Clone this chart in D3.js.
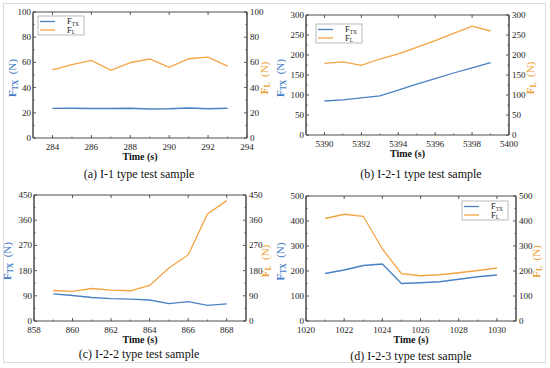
<!DOCTYPE html>
<html>
<head>
<meta charset="utf-8">
<script src="https://cdn.jsdelivr.net/npm/d3@7"></script>
<style>
  body { margin: 0; background: #fff; }
</style>
</head>
<body>
<div id="chart"></div>
<script>
// data
const timeA = [284, 285, 286, 287, 288, 289, 290, 291, 292, 293];
const ftxA  = [23.5, 23.6, 23.4, 23.4, 23.6, 23.0, 23.2, 23.8, 23.2, 23.6];
const flA   = [54, 58.3, 61.6, 53.7, 59.8, 62.7, 56.1, 62.9, 64.2, 57.1];

const timeB = [5390, 5391, 5392, 5393, 5394, 5395, 5396, 5397, 5398, 5399];
const ftxB  = [85, 88, 93, 98, 112, 127, 141, 155, 168, 181];
const flB   = [179, 183, 174, 190, 203, 219, 236, 254, 272, 260];

const timeC = [859, 860, 861, 862, 863, 864, 865, 866, 867, 868];
const ftxC  = [97, 91, 84, 80, 78, 75, 62, 69, 56, 61];
const flC   = [109, 106, 116, 110, 108, 127, 189, 236, 382, 430];

const timeD = [1021, 1022, 1023, 1024, 1025, 1026, 1027, 1028, 1029, 1030];
const ftxD  = [190, 204, 222, 228, 150, 153, 157, 167, 177, 184];
const flD   = [410, 427, 419, 288, 189, 181, 185, 193, 202, 212];

const xTicksA = [284, 286, 288, 290, 292, 294];
const xTicksB = [5390, 5392, 5394, 5396, 5398, 5400];
const xTicksC = [858, 860, 862, 864, 866, 868];
const xTicksD = [1020, 1022, 1024, 1026, 1028, 1030];

const captions = ["(a) I-1 type test sample", "(b) I-2-1 type test sample",
                  "(c) I-2-2 type test sample", "(d) I-2-3 type test sample"];

const blue = "#4a80c4", orange = "#f2a443";
const blueTxt = "#3f7cc6", orangeTxt = "#eda235";
const serif = "'Liberation Serif', 'Times New Roman', 'DejaVu Serif', serif";

const svg = d3.select("#chart").append("svg")
  .attr("width", 550).attr("height", 368)
  .attr("font-family", serif);

// light frame round the whole figure
svg.append("rect").attr("x", 3.5).attr("y", 3.5).attr("width", 542).attr("height", 359)
  .attr("fill", "none").attr("stroke", "#dcdcdc");

function drawPanel(p) {
  const x = d3.scaleLinear().domain(p.xDom).range([p.left, p.right]);
  const y = d3.scaleLinear().domain(p.yDom).range([p.bottom, p.top]);
  const g = svg.append("g");

  const xTicks = p.xTicks;
  const xMinor = xTicks.map(d => d + 1).filter(d => d < p.xDom[1]);
  const yTicks = d3.range(p.yDom[0], p.yDom[1] + 0.01, p.yStep);
  const yMinor = d3.range(p.yDom[0] + p.yStep / 2, p.yDom[1], p.yStep);

  // inward tick marks, bottom and top
  g.append("g").selectAll("line").data(xTicks).join("line")
    .attr("x1", d => x(d)).attr("x2", d => x(d))
    .attr("y1", p.bottom).attr("y2", p.bottom - 3).attr("stroke", "#333").attr("stroke-width", 0.8);
  g.append("g").selectAll("line").data(xTicks).join("line")
    .attr("x1", d => x(d)).attr("x2", d => x(d))
    .attr("y1", p.top).attr("y2", p.top + 3).attr("stroke", "#333").attr("stroke-width", 0.8);
  g.append("g").selectAll("line").data(xMinor).join("line")
    .attr("x1", d => x(d)).attr("x2", d => x(d))
    .attr("y1", p.bottom).attr("y2", p.bottom - 1.5).attr("stroke", "#333").attr("stroke-width", 0.6);

  // left and right y ticks
  [[p.left, 1], [p.right, -1]].forEach(([ax, dir]) => {
    g.append("g").selectAll("line").data(yTicks).join("line")
      .attr("x1", ax).attr("x2", ax + dir * 3)
      .attr("y1", d => y(d)).attr("y2", d => y(d)).attr("stroke", "#333").attr("stroke-width", 0.8);
    g.append("g").selectAll("line").data(yMinor).join("line")
      .attr("x1", ax).attr("x2", ax + dir * 1.8)
      .attr("y1", d => y(d)).attr("y2", d => y(d)).attr("stroke", "#333").attr("stroke-width", 0.6);
  });

  // frame
  g.append("line").attr("x1", p.left).attr("x2", p.right).attr("y1", p.top).attr("y2", p.top)
    .attr("stroke", "#222").attr("stroke-width", 0.8);
  g.append("line").attr("x1", p.left).attr("x2", p.right).attr("y1", p.bottom).attr("y2", p.bottom)
    .attr("stroke", "#222").attr("stroke-width", 0.8);
  g.append("line").attr("x1", p.left).attr("x2", p.left).attr("y1", p.top).attr("y2", p.bottom)
    .attr("stroke", "#555").attr("stroke-width", 1.6);
  g.append("line").attr("x1", p.right).attr("x2", p.right).attr("y1", p.top).attr("y2", p.bottom)
    .attr("stroke", "#555").attr("stroke-width", 1.6);

  // tick labels
  g.append("g").selectAll("text").data(xTicks).join("text")
    .attr("x", d => x(d)).attr("y", p.bottom + 11.5)
    .attr("text-anchor", "middle").attr("font-size", 9).attr("fill", "#222").text(d => d);
  g.append("g").selectAll("text").data(yTicks).join("text")
    .attr("x", p.left - 2).attr("y", d => y(d) + 3)
    .attr("text-anchor", "end").attr("font-size", 9).attr("fill", "#222").text(d => d);
  g.append("g").selectAll("text").data(yTicks).join("text")
    .attr("x", p.right + 3).attr("y", d => y(d) + 3)
    .attr("text-anchor", "start").attr("font-size", 9).attr("fill", "#222").text(d => d);

  // lines
  const line = d3.line().x(d => x(d[0])).y(d => y(d[1]));
  g.append("path").datum(d3.zip(p.time, p.fl)).attr("d", line)
    .attr("fill", "none").attr("stroke", orange).attr("stroke-width", 1.3);
  g.append("path").datum(d3.zip(p.time, p.ftx)).attr("d", line)
    .attr("fill", "none").attr("stroke", blue).attr("stroke-width", 1.3);

  // axis titles
  const midY = (p.top + p.bottom) / 2 + 3;
  const lt = g.append("text").attr("transform", `translate(${p.left - p.labOff},${midY}) rotate(-90)`)
    .attr("text-anchor", "middle").attr("font-size", 11).attr("fill", blueTxt).attr("font-weight", "bold");
  lt.append("tspan").text("F");
  lt.append("tspan").attr("font-size", 7.5).attr("dy", 2).text("TX");
  lt.append("tspan").attr("dy", -2).attr("font-weight", "normal").text("\u00a0\u00a0(N)");

  const rt = g.append("text").attr("transform", `translate(${p.right + p.labOffR},${midY}) rotate(-90)`)
    .attr("text-anchor", "middle").attr("font-size", 11).attr("fill", orangeTxt).attr("font-weight", "bold");
  rt.append("tspan").text("F");
  rt.append("tspan").attr("font-size", 7.5).attr("dy", 2).text("L");
  rt.append("tspan").attr("dy", -2).attr("font-weight", "normal").text("\u00a0\u00a0(N)");

  g.append("text").attr("x", (p.left + p.right) / 2).attr("y", p.bottom + 22)
    .attr("text-anchor", "middle").attr("font-size", 10).attr("font-weight", "bold")
    .attr("fill", "#111").text("Time (s)");

  g.append("text").attr("x", p.capX).attr("y", p.capY)
    .attr("text-anchor", "middle").attr("font-size", 12).attr("fill", "#111").text(p.caption);

  // legend
  if (!p.leg) return;
  const lg = g.append("g").attr("transform", `translate(${p.leg[0]},${p.leg[1]})`);
  lg.append("rect").attr("width", 46).attr("height", 19)
    .attr("fill", "#fff").attr("stroke", "#aaa").attr("stroke-width", 0.8);
  [[blue, "TX", 5.5], [orange, "L", 14]].forEach(([c, sub, yy]) => {
    lg.append("line").attr("x1", 2).attr("x2", 17).attr("y1", yy).attr("y2", yy)
      .attr("stroke", c).attr("stroke-width", 1.3);
    const t = lg.append("text").attr("x", 29).attr("y", yy + 2.5).attr("font-size", 8.5).attr("fill", "#222");
    t.append("tspan").text("F");
    t.append("tspan").attr("font-size", 5.5).attr("dy", 1.5).text(sub);
  });
}

const panels = [
  {time: timeA, ftx: ftxA, fl: flA, xDom: [283, 294], xTicks: xTicksA, yDom: [0, 100], yStep: 20,
   left: 33, right: 247, top: 12, bottom: 138, labOff: 17, labOffR: 21, leg: [38, 16],
   capX: 139, capY: 178, caption: captions[0]},
  {time: timeB, ftx: ftxB, fl: flB, xDom: [5389, 5400], xTicks: xTicksB, yDom: [0, 300], yStep: 50,
   left: 306, right: 509, top: 15, bottom: 135, labOff: 22, labOffR: 25, leg: [316, 24],
   capX: 421, capY: 178, caption: captions[1]},
  {time: timeC, ftx: ftxC, fl: flC, xDom: [858, 869], xTicks: xTicksC, yDom: [0, 450], yStep: 90,
   left: 34, right: 246, top: 195, bottom: 321, labOff: 23, labOffR: 23, leg: null,
   capX: 139, capY: 358, caption: captions[2]},
  {time: timeD, ftx: ftxD, fl: flD, xDom: [1020, 1031], xTicks: xTicksD, yDom: [0, 500], yStep: 100,
   left: 306, right: 516, top: 196, bottom: 321, labOff: 22, labOffR: 24, leg: [462, 201],
   capX: 411, capY: 360, caption: captions[3]}
];

panels.forEach(drawPanel);
</script>
</body>
</html>
